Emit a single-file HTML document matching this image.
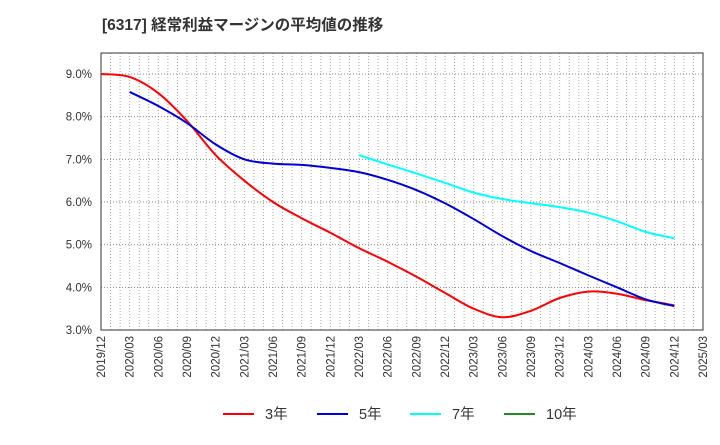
<!DOCTYPE html>
<html><head><meta charset="utf-8"><style>
body{margin:0;background:#fff;font-family:"Liberation Sans","Noto Sans CJK JP",sans-serif;}
</style></head><body>
<svg width="720" height="440" xmlns="http://www.w3.org/2000/svg">
<text x="102" y="30" font-size="15.5" font-weight="bold" fill="#333">[6317]  経常利益マージンの平均値の推移</text>
<g id="grid"></g>
<rect x="101" y="53" width="602" height="277" fill="none" stroke="#333" stroke-width="1"/>
<g id="yticks"></g><g id="xticks"></g><g id="series"></g><g id="legend"></g>
</svg>
<script>
const quarters=["2019/12","2020/03","2020/06","2020/09","2020/12","2021/03","2021/06","2021/09","2021/12","2022/03","2022/06","2022/09","2022/12","2023/03","2023/06","2023/09","2023/12","2024/03","2024/06","2024/09","2024/12","2025/03"];
const yTicks=[3,4,5,6,7,8,9];
const s3=[9.0,8.93,8.55,7.9,7.1,6.5,6.0,5.62,5.28,4.92,4.6,4.25,3.87,3.5,3.3,3.45,3.75,3.9,3.85,3.7,3.58];
const s5=[null,8.58,8.25,7.85,7.35,7.0,6.9,6.87,6.8,6.7,6.52,6.28,5.97,5.6,5.2,4.85,4.57,4.28,4.0,3.72,3.56];
const s7=[null,null,null,null,null,null,null,null,null,7.1,6.88,6.67,6.45,6.22,6.07,5.97,5.88,5.75,5.55,5.3,5.15];
const s10=[];
const NS="http://www.w3.org/2000/svg";
const X0=101,X1=703,Y0=330,Y1=53;
const x=i=>X0+i*(X1-X0)/(quarters.length-1);
const y=v=>Y0-(v-3)*(330-74)/6;
function mk(t,a,p){const e=document.createElementNS(NS,t);for(const k in a)e.setAttribute(k,a[k]);p.appendChild(e);return e;}
const grid=document.getElementById('grid');
for(let m=1;m<(quarters.length-1)*3;m++){const xx=X0+m*(X1-X0)/((quarters.length-1)*3);
const l=mk('line',{x1:xx,x2:xx,y1:Y1,y2:Y0,stroke:'#aaa','stroke-dasharray':'1,2'},grid);

}
const yt=document.getElementById('yticks');
yTicks.forEach(v=>{const l=mk('line',{x1:X0,x2:X1,y1:y(v),y2:y(v),stroke:'#888','stroke-dasharray':'1,2'},grid);


const t=mk('text',{x:92,y:y(v)+4,'text-anchor':'end','font-size':11.5,fill:'#333'},yt);t.textContent=v.toFixed(1)+'%';

});
const xt=document.getElementById('xticks');
quarters.forEach((q,i)=>{const t=mk('text',{x:x(i)+4,y:336,'text-anchor':'end','font-size':11.5,fill:'#333',transform:`rotate(-90 ${x(i)+4} 336)`},xt);t.textContent=q;

});
const ser=document.getElementById('series');
function line(d,c,n){const pts=d.map((v,i)=>v==null?null:[x(i),y(v)]).filter(p=>p);if(pts.length<2)return;
let p='M'+pts[0];for(let i=0;i<pts.length-1;i++){const p0=pts[i-1]||pts[i],p1=pts[i],p2=pts[i+1],p3=pts[i+2]||p2;
p+=` C${p1[0]+(p2[0]-p0[0])/6},${p1[1]+(p2[1]-p0[1])/6} ${p2[0]-(p3[0]-p1[0])/6},${p2[1]-(p3[1]-p1[1])/6} ${p2[0]},${p2[1]}`;}
const e=mk('path',{d:p,fill:'none',stroke:c,'stroke-width':2},ser);

}
line(s3,'#ff0000','series-3yr');line(s5,'#0000dd','series-5yr');line(s7,'#00ffff','series-7yr');line(s10,'#008000','series-10yr');
const lg=document.getElementById('legend');
[['3年','#ff0000',223],['5年','#0000dd',317],['7年','#00ffff',410],['10年','#228b22',504]].forEach(([n,c,lx])=>{
const g=mk('g',{},lg);


mk('line',{x1:lx,x2:lx+31,y1:414,y2:414,stroke:c,'stroke-width':2},g);
const t=mk('text',{x:lx+42,y:419,'font-size':14.5,fill:'#333'},g);t.textContent=n;});
</script>
</body></html>
